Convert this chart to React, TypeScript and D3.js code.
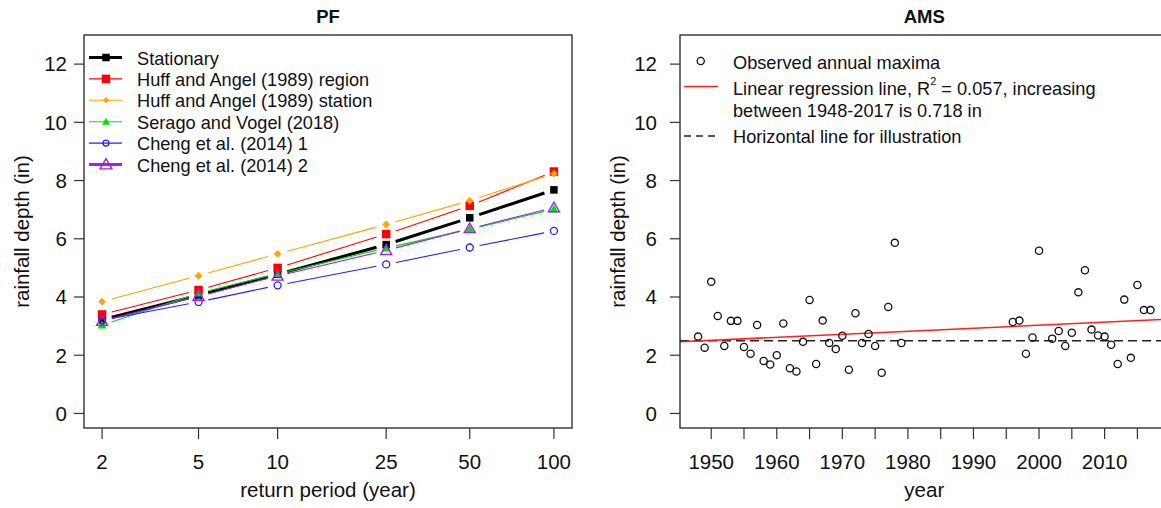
import React from 'react';
import * as d3 from 'd3';

const width = 1161;
const height = 508;
const font = 'Liberation Sans, Arial, sans-serif';

// PF panel data (rainfall depth, in, per return period)
const returnPeriods = [2, 5, 10, 25, 50, 100];
const stationary = [3.22, 4.06, 4.78, 5.8, 6.72, 7.68];
const huffRegion = [3.4, 4.24, 5.0, 6.16, 7.13, 8.31];
const huffStation = [3.84, 4.73, 5.48, 6.49, 7.31, 8.24];
const seragoVogel = [3.03, 4.13, 4.8, 5.68, 6.33, 7.02];
const cheng1 = [3.2, 3.83, 4.4, 5.12, 5.7, 6.27];
const cheng2 = [3.17, 4.03, 4.72, 5.6, 6.35, 7.07];
const depthTicks = [0, 2, 4, 6, 8, 10, 12];

// AMS panel data
const amsYears = [
  1948, 1949, 1950, 1951, 1952, 1953, 1954, 1955, 1956, 1957, 1958, 1959, 1960, 1961, 1962, 1963,
  1964, 1965, 1966, 1967, 1968, 1969, 1970, 1971, 1972, 1973, 1974, 1975, 1976, 1977, 1978, 1979,
  1996, 1997, 1998, 1999, 2000, 2002, 2003, 2004, 2005, 2006, 2007, 2008, 2009, 2010, 2011, 2012,
  2013, 2014, 2015, 2016, 2017,
];
const amsDepth = [
  2.64, 2.26, 4.52, 3.35, 2.32, 3.18, 3.18, 2.28, 2.05, 3.04, 1.8, 1.68, 2.0, 3.09, 1.55, 1.44,
  2.46, 3.9, 1.7, 3.19, 2.42, 2.21, 2.67, 1.5, 3.44, 2.42, 2.73, 2.32, 1.4, 3.66, 5.86, 2.42,
  3.14, 3.19, 2.05, 2.61, 5.59, 2.57, 2.83, 2.32, 2.77, 4.16, 4.92, 2.88, 2.68, 2.64, 2.36, 1.7,
  3.91, 1.91, 4.41, 3.55, 3.55,
];
const yearTicks = [1950, 1955, 1960, 1965, 1970, 1975, 1980, 1985, 1990, 1995, 2000, 2005, 2010, 2015];
const yearLabels = [1950, 1960, 1970, 1980, 1990, 2000, 2010];
const regressionYears = [1948, 2017];
const regressionDepth = [2.49, 3.208];
const horizontalDepth = 2.5;

type Sym = 'square' | 'diamond' | 'triangle' | 'circle' | 'openTriangle';
const series: { name: string; values: number[]; color: string; lw: number; sym: Sym; size: number; legLw: number; legSize: number }[] = [
  { name: 'Stationary', values: stationary, color: '#000000', lw: 3, sym: 'square', size: 7.5, legLw: 3, legSize: 7.5 },
  { name: 'Huff and Angel (1989) region', values: huffRegion, color: '#ff0000', lw: 1.1, sym: 'square', size: 8.5, legLw: 1.1, legSize: 8.5 },
  { name: 'Huff and Angel (1989) station', values: huffStation, color: '#ffa500', lw: 1.1, sym: 'diamond', size: 5.5, legLw: 1.1, legSize: 4.5 },
  { name: 'Serago and Vogel (2018)', values: seragoVogel, color: '#00e000', lw: 1.1, sym: 'triangle', size: 9, legLw: 1.1, legSize: 8 },
  { name: 'Cheng et al. (2014) 1', values: cheng1, color: '#2020ff', lw: 1.1, sym: 'circle', size: 7, legLw: 1.1, legSize: 6 },
  { name: 'Cheng et al. (2014) 2', values: cheng2, color: '#a020f0', lw: 1.1, sym: 'openTriangle', size: 11, legLw: 3, legSize: 12 },
];

const box = { top: 35, bottom: 428 };
const leftBox = { x0: 84, x1: 572 };
const rightBox = { x0: 680, x1: 1168.6 };

const y = d3.scaleLinear().domain([-0.5, 13]).range([box.bottom, box.top]);

// return period axis spacing
const tu = (t: number) => Math.log10(t + 0.5);
const uMin = tu(returnPeriods[0]);
const uMax = tu(returnPeriods[returnPeriods.length - 1]);
const uPad = (uMax - uMin) * 0.04;
const xu = d3.scaleLinear().domain([uMin - uPad, uMax + uPad]).range([leftBox.x0, leftBox.x1]);
const xT = (t: number) => xu(tu(t));

const xYear = d3.scaleLinear().domain([1945.24, 2019.76]).range([rightBox.x0, rightBox.x1]);

function marker(sym: Sym, cx: number, cy: number, s: number, color: string, key?: string) {
  if (sym === 'square') {
    return <rect key={key} x={cx - s / 2} y={cy - s / 2} width={s} height={s} fill={color} />;
  }
  if (sym === 'diamond') {
    return <rect key={key} x={cx - s / 2} y={cy - s / 2} width={s} height={s} fill={color} transform={`rotate(45 ${cx} ${cy})`} />;
  }
  if (sym === 'circle') {
    return <circle key={key} cx={cx} cy={cy} r={s / 2} fill="none" stroke={color} strokeWidth={1.3} />;
  }
  const tri = d3.symbol().type(d3.symbolTriangle).size((Math.sqrt(3) / 4) * s * s)();
  const open = sym === 'openTriangle';
  return (
    <path key={key} d={tri || ''} transform={`translate(${cx},${cy + s * 0.08})`}
      fill={open ? 'none' : color} stroke={open ? color : 'none'} strokeWidth={open ? 1.4 : 0} />
  );
}

function gapped(pts: [number, number][], gap: number) {
  const segs: number[][] = [];
  for (let i = 0; i < pts.length - 1; i++) {
    const [x1, y1] = pts[i];
    const [x2, y2] = pts[i + 1];
    const L = Math.hypot(x2 - x1, y2 - y1);
    if (L <= gap * 2) continue;
    const ux = (x2 - x1) / L;
    const uy = (y2 - y1) / L;
    segs.push([x1 + ux * gap, y1 + uy * gap, x2 - ux * gap, y2 - uy * gap]);
  }
  return segs;
}

const tickFont = 20.5;
const labelFont = 20.5;
const legendFont = 18.2;

function YAxis({ x0, labelRight, titleX }: { x0: number; labelRight: number; titleX: number }) {
  return (
    <g>
      {depthTicks.map((t) => (
        <g key={t}>
          <line x1={x0 - 10} x2={x0} y1={y(t)} y2={y(t)} stroke="#333" strokeWidth={1.2} />
          <text x={labelRight} y={y(t)} dy="0.36em" textAnchor="end" fontSize={tickFont} fill="#111">{t}</text>
        </g>
      ))}
      <text transform={`translate(${titleX},${(box.top + box.bottom) / 2}) rotate(-90)`} textAnchor="middle" fontSize={labelFont} fill="#111">
        rainfall depth (in)
      </text>
    </g>
  );
}

export default function App() {
  const legendRows = series.map((_, i) => 57.5 + i * 21.4);
  const regLine = d3.line<number>()
    .x((yr) => xYear(yr))
    .y((yr) => y(regressionDepth[0] + ((regressionDepth[1] - regressionDepth[0]) * (yr - regressionYears[0])) / (regressionYears[1] - regressionYears[0])));

  return (
    <svg width={width} height={height} style={{ position: 'absolute', left: 0, top: 0, background: '#fff' }} fontFamily={font}>
      {/* ---------- PF ---------- */}
      <text x={(leftBox.x0 + leftBox.x1) / 2} y={23} textAnchor="middle" fontWeight="bold" fontSize={18.5} fill="#111">PF</text>
      {series.map((s) => {
        const pts = s.values.map((v, i) => [xT(returnPeriods[i]), y(v)] as [number, number]);
        return (
          <g key={s.name}>
            {gapped(pts, 10).map((sg, i) => (
              <line key={i} x1={sg[0]} y1={sg[1]} x2={sg[2]} y2={sg[3]} stroke={s.color} strokeWidth={s.lw} />
            ))}
            {pts.map((p, i) => marker(s.sym, p[0], p[1], s.size, s.color, String(i)))}
          </g>
        );
      })}
      <rect x={leftBox.x0} y={box.top} width={leftBox.x1 - leftBox.x0} height={box.bottom - box.top} fill="none" stroke="#222" strokeWidth={1.3} />
      {series.map((s, i) => (
        <g key={s.name}>
          <line x1={89} x2={122} y1={legendRows[i]} y2={legendRows[i]} stroke={s.color} strokeWidth={s.legLw} />
          {marker(s.sym, 106, legendRows[i], s.legSize, s.color)}
          <text x={137} y={legendRows[i] + 7} fontSize={legendFont} fill="#111">{s.name}</text>
        </g>
      ))}
      {returnPeriods.map((t) => (
        <g key={t}>
          <line x1={xT(t)} x2={xT(t)} y1={box.bottom} y2={box.bottom + 11} stroke="#333" strokeWidth={1.2} />
          <text x={xT(t)} y={469} textAnchor="middle" fontSize={tickFont} fill="#111">{t}</text>
        </g>
      ))}
      <text x={(leftBox.x0 + leftBox.x1) / 2} y={497} textAnchor="middle" fontSize={labelFont} fill="#111">return period (year)</text>
      <YAxis x0={leftBox.x0} labelRight={67} titleX={29} />

      {/* ---------- AMS ---------- */}
      <text x={(rightBox.x0 + rightBox.x1) / 2} y={23} textAnchor="middle" fontWeight="bold" fontSize={18.5} fill="#111">AMS</text>
      <line x1={rightBox.x0} x2={rightBox.x1} y1={y(horizontalDepth)} y2={y(horizontalDepth)} stroke="#222" strokeWidth={1.5} strokeDasharray="9,5" />
      <path d={regLine([xYear.invert(rightBox.x0), xYear.invert(rightBox.x1)]) || ''} fill="none" stroke="#ff2020" strokeWidth={1.6} />
      {amsYears.map((yr, i) => (
        <circle key={yr} cx={xYear(yr)} cy={y(amsDepth[i])} r={3.6} fill="none" stroke="#111" strokeWidth={1.3} />
      ))}
      <rect x={rightBox.x0} y={box.top} width={rightBox.x1 - rightBox.x0} height={box.bottom - box.top} fill="none" stroke="#222" strokeWidth={1.3} />
      {yearTicks.map((t) => (
        <line key={t} x1={xYear(t)} x2={xYear(t)} y1={box.bottom} y2={box.bottom + 11} stroke="#333" strokeWidth={1.2} />
      ))}
      {yearLabels.map((t) => (
        <text key={t} x={xYear(t)} y={469} textAnchor="middle" fontSize={tickFont} fill="#111">{t}</text>
      ))}
      <text x={(rightBox.x0 + rightBox.x1) / 2} y={497} textAnchor="middle" fontSize={labelFont} fill="#111">year</text>
      <YAxis x0={rightBox.x0} labelRight={657} titleX={625} />

      <circle cx={700.7} cy={61} r={3.6} fill="none" stroke="#111" strokeWidth={1.3} />
      <line x1={684} x2={718} y1={86.5} y2={86.5} stroke="#ff2020" strokeWidth={1.4} />
      <line x1={684} x2={718} y1={136} y2={136} stroke="#222" strokeWidth={1.5} strokeDasharray="7,5" />
      <text x={733} y={68.5} fontSize={legendFont} fill="#111">Observed annual maxima</text>
      <text x={733} y={95} fontSize={legendFont} fill="#111">
        Linear regression line, R
        <tspan fontSize={11} dy={-10}>2</tspan>
        <tspan dy={10}> = 0.057, increasing</tspan>
      </text>
      <text x={733} y={117} fontSize={legendFont} fill="#111">between 1948-2017 is 0.718 in</text>
      <text x={733} y={143} fontSize={legendFont} fill="#111">Horizontal line for illustration</text>
    </svg>
  );
}
